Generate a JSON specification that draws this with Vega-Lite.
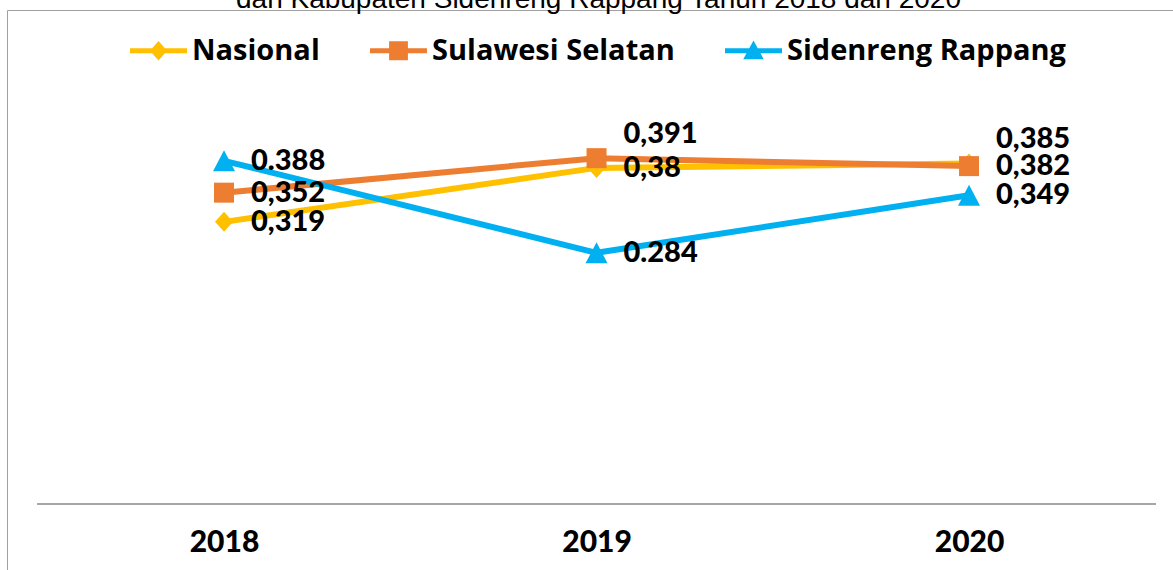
{
  "$schema": "https://vega.github.io/schema/vega-lite/v6.json",
  "autosize": "none",
  "padding": {"left": 7, "top": 10, "right": 0, "bottom": 0},
  "width": 1183,
  "height": 580,
  "background": "white",
  "config": {
    "view": {"stroke": "#a0a0a0", "strokeWidth": 1},
    "font": "Lato"
  },
  "title": {
    "text": "dan Kabupaten Sidenreng Rappang Tahun 2018 dan 2020",
    "font": "Liberation Sans",
    "fontSize": 28,
    "fontWeight": "normal",
    "color": "#000000",
    "anchor": "middle",
    "baseline": "alphabetic",
    "offset": 0,
    "dy": 26
  },
  "data": {
    "values": [
      {"year": 2018, "series": "Nasional", "value": 0.319, "label": "0,319"},
      {"year": 2019, "series": "Nasional", "value": 0.38, "label": "0,38"},
      {"year": 2020, "series": "Nasional", "value": 0.385, "label": "0,385"},
      {"year": 2018, "series": "Sulawesi Selatan", "value": 0.352, "label": "0,352"},
      {"year": 2019, "series": "Sulawesi Selatan", "value": 0.391, "label": "0,391"},
      {"year": 2020, "series": "Sulawesi Selatan", "value": 0.382, "label": "0,382"},
      {"year": 2018, "series": "Sidenreng Rappang", "value": 0.388, "label": "0.388"},
      {"year": 2019, "series": "Sidenreng Rappang", "value": 0.284, "label": "0.284"},
      {"year": 2020, "series": "Sidenreng Rappang", "value": 0.349, "label": "0,349"}
    ]
  },
  "layer": [
    {
      "mark": {"type": "line", "strokeWidth": 6, "strokeJoin": "round"},
      "encoding": {
        "x": {
          "field": "year",
          "type": "quantitative",
          "scale": {"domain": [2017.4174, 2020.5932], "nice": false, "zero": false},
          "axis": {
            "values": [2018, 2019, 2020],
            "format": "d",
            "title": null,
            "domain": false,
            "ticks": false,
            "grid": false,
            "labelFont": "Lato",
            "labelFontWeight": 900,
            "labelFontSize": 30,
            "labelColor": "#000000",
            "labelBaseline": "middle",
            "labelPadding": 40,
            "labelFlush": false,
            "labelOverlap": false,
            "offset": -88
          }
        },
        "y": {
          "field": "value",
          "type": "quantitative",
          "scale": {"domain": [-0.0972, 0.5585], "nice": false, "zero": false},
          "axis": null
        },
        "color": {
          "field": "series",
          "type": "nominal",
          "sort": ["Nasional", "Sulawesi Selatan", "Sidenreng Rappang"],
          "scale": {
            "domain": ["Nasional", "Sulawesi Selatan", "Sidenreng Rappang"],
            "range": ["#FFC000", "#ED7D31", "#00B0F0"]
          },
          "legend": {
            "title": null,
            "orient": "none",
            "direction": "horizontal",
            "legendX": 123,
            "legendY": 12,
            "padding": 0,
            "columnPadding": 50,
            "labelOffset": 5,
            "labelFont": "Open Sans",
            "labelFontWeight": "bold",
            "labelFontSize": 29,
            "labelColor": "#000000",
            "labelLimit": 500,
            "symbolSize": 3249,
            "symbolStrokeWidth": 0,
            "encode": {
              "symbols": {
                "update": {
                  "shape": {"signal": "datum.value === 'Nasional' ? 'M-1,-0.09H1V0.09H-1Z M0,-0.34L0.3,0L0,0.34L-0.3,0Z' : datum.value === 'Sulawesi Selatan' ? 'M-1,-0.09H1V0.09H-1Z M-0.33,-0.33H0.33V0.33H-0.33Z' : 'M-1,-0.09H1V0.09H-1Z M0,-0.36L0.36,0.3L-0.36,0.3Z'"},
                  "fill": {"signal": "scale('color', datum.value)"},
                  "stroke": {"value": "transparent"},
                  "strokeWidth": {"value": 0},
                  "opacity": {"value": 1}
                }
              }
            }
          }
        }
      }
    },
    {
      "mark": {"type": "rule", "color": "#a6a6a6", "strokeWidth": 2},
      "encoding": {
        "x": {"datum": 2017.5, "type": "quantitative"},
        "x2": {"datum": 2020.5},
        "y": {"datum": 0, "type": "quantitative"}
      }
    },
    {
      "transform": [{"filter": "datum.series === 'Nasional'"}],
      "mark": {"type": "point", "filled": true, "opacity": 1, "size": 400, "shape": "M0,-1L0.9,0L0,1L-0.9,0Z", "color": "#FFC000"},
      "encoding": {"x": {"field": "year", "type": "quantitative"}, "y": {"field": "value", "type": "quantitative"}}
    },
    {
      "transform": [{"filter": "datum.series === 'Sulawesi Selatan'"}],
      "mark": {"type": "point", "filled": true, "opacity": 1, "size": 400, "shape": "M-1,-1H1V1H-1Z", "color": "#ED7D31"},
      "encoding": {"x": {"field": "year", "type": "quantitative"}, "y": {"field": "value", "type": "quantitative"}}
    },
    {
      "transform": [{"filter": "datum.series === 'Sidenreng Rappang'"}],
      "mark": {"type": "point", "filled": true, "opacity": 1, "size": 400, "shape": "M0,-1.05L1.1,1.05L-1.1,1.05Z", "color": "#00B0F0"},
      "encoding": {"x": {"field": "year", "type": "quantitative"}, "y": {"field": "value", "type": "quantitative"}}
    },
    {
      "transform": [{"filter": "!((datum.series === 'Sulawesi Selatan' && datum.year === 2019) || (datum.series === 'Nasional' && datum.year === 2020))"}],
      "mark": {"type": "text", "align": "left", "baseline": "middle", "dx": 27, "font": "Lato", "fontWeight": 900, "fontSize": 29, "color": "#000000"},
      "encoding": {"x": {"field": "year", "type": "quantitative"}, "y": {"field": "value", "type": "quantitative"}, "text": {"field": "label"}}
    },
    {
      "transform": [{"filter": "(datum.series === 'Sulawesi Selatan' && datum.year === 2019) || (datum.series === 'Nasional' && datum.year === 2020)"}],
      "mark": {"type": "text", "align": "left", "baseline": "middle", "dx": 27, "dy": -24, "font": "Lato", "fontWeight": 900, "fontSize": 29, "color": "#000000"},
      "encoding": {"x": {"field": "year", "type": "quantitative"}, "y": {"field": "value", "type": "quantitative"}, "text": {"field": "label"}}
    }
  ]
}
